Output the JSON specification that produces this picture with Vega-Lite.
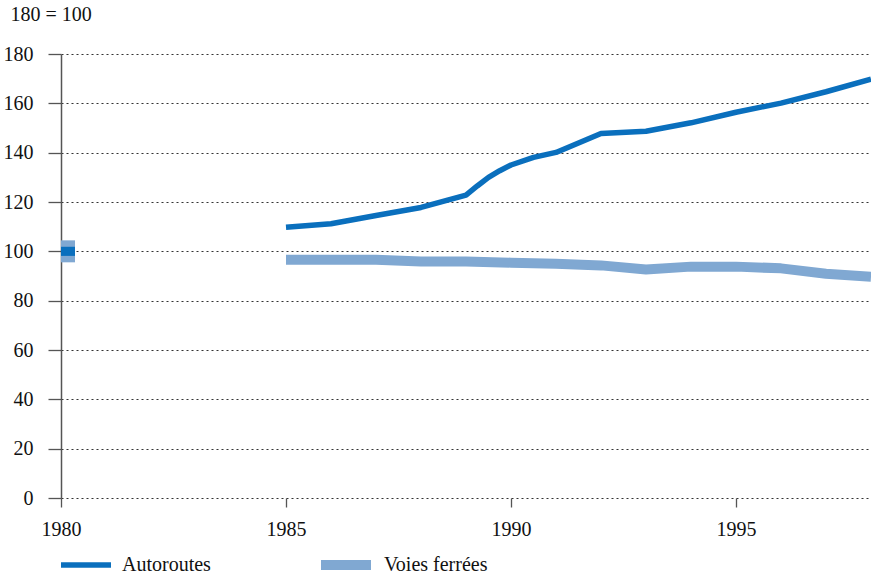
{
  "$schema": "https://vega.github.io/schema/vega-lite/v6.json",
  "width": 810,
  "height": 444,
  "autosize": {"type": "none"},
  "padding": {"left": 61, "top": 54, "right": 0, "bottom": 79},
  "background": "white",
  "config": {
    "font": "Liberation Serif, serif",
    "view": {"stroke": null},
    "legend": {"labelFont": "Liberation Serif, serif", "labelFontSize": 20, "labelColor": "#111"}
  },
  "data": {
    "values": [
      {"year": 1980, "series": "Autoroutes", "value": 100},
      {"year": 1985, "series": "Autoroutes", "value": 109.8},
      {"year": 1986, "series": "Autoroutes", "value": 111.2},
      {"year": 1987, "series": "Autoroutes", "value": 114.5},
      {"year": 1988, "series": "Autoroutes", "value": 117.8},
      {"year": 1989, "series": "Autoroutes", "value": 122.8},
      {"year": 1989.25, "series": "Autoroutes", "value": 126.5},
      {"year": 1989.5, "series": "Autoroutes", "value": 130},
      {"year": 1989.75, "series": "Autoroutes", "value": 132.7},
      {"year": 1990, "series": "Autoroutes", "value": 135},
      {"year": 1990.5, "series": "Autoroutes", "value": 138.1},
      {"year": 1991, "series": "Autoroutes", "value": 140.1},
      {"year": 1992, "series": "Autoroutes", "value": 147.8},
      {"year": 1993, "series": "Autoroutes", "value": 148.7},
      {"year": 1994, "series": "Autoroutes", "value": 152.1},
      {"year": 1995, "series": "Autoroutes", "value": 156.4},
      {"year": 1996, "series": "Autoroutes", "value": 160.1},
      {"year": 1997, "series": "Autoroutes", "value": 164.7},
      {"year": 1998, "series": "Autoroutes", "value": 169.8},
      {"year": 1980, "series": "Voies ferrées", "value": 100},
      {"year": 1985, "series": "Voies ferrées", "value": 96.6},
      {"year": 1986, "series": "Voies ferrées", "value": 96.6},
      {"year": 1987, "series": "Voies ferrées", "value": 96.6},
      {"year": 1988, "series": "Voies ferrées", "value": 95.9},
      {"year": 1989, "series": "Voies ferrées", "value": 95.9},
      {"year": 1990, "series": "Voies ferrées", "value": 95.4},
      {"year": 1991, "series": "Voies ferrées", "value": 95.0},
      {"year": 1992, "series": "Voies ferrées", "value": 94.3},
      {"year": 1993, "series": "Voies ferrées", "value": 92.6},
      {"year": 1994, "series": "Voies ferrées", "value": 93.8},
      {"year": 1995, "series": "Voies ferrées", "value": 93.8},
      {"year": 1996, "series": "Voies ferrées", "value": 93.1},
      {"year": 1997, "series": "Voies ferrées", "value": 90.9},
      {"year": 1998, "series": "Voies ferrées", "value": 89.7}
    ]
  },
  "encoding": {
    "x": {
      "field": "year", "type": "quantitative",
      "scale": {"domain": [1980, 1998], "nice": false, "zero": false},
      "axis": {
        "title": null, "values": [1980, 1985, 1990, 1995], "format": "d",
        "labelFont": "Liberation Serif", "labelFontSize": 20, "labelColor": "#111",
        "domain": false, "grid": false, "tickSize": 9, "tickColor": "#555", "tickWidth": 1.3,
        "labelPadding": 12, "labelFlush": false
      }
    },
    "y": {
      "field": "value", "type": "quantitative",
      "scale": {"domain": [0, 180], "nice": false},
      "axis": {
        "title": "180 = 100", "titleAngle": 0, "titleAlign": "left", "titleBaseline": "alphabetic",
        "titleX": -51, "titleY": -34, "titleFont": "Liberation Serif", "titleFontSize": 20, "titleFontWeight": "normal", "titleColor": "#111",
        "labelFont": "Liberation Serif", "labelFontSize": 20, "labelColor": "#111",
        "values": [0, 20, 40, 60, 80, 100, 120, 140, 160, 180],
        "domain": true, "domainColor": "#555", "domainWidth": 1.5,
        "tickSize": 13, "tickColor": "#555", "tickWidth": 1.3, "labelPadding": 15,
        "grid": true, "gridColor": "#333", "gridDash": [2, 3], "gridWidth": 1.2
      }
    }
  },
  "layer": [
    {
      "transform": [{"filter": "datum.year >= 1985 && datum.series == 'Voies ferrées'"}],
      "mark": {"type": "line", "strokeCap": "butt", "strokeJoin": "round", "strokeWidth": 10},
      "encoding": {
        "color": {
          "field": "series", "type": "nominal",
          "scale": {"domain": ["Voies ferrées"], "range": ["#80a8d2"]},
          "legend": {
            "title": null, "orient": "none", "legendX": 255, "legendY": 481,
            "symbolType": "stroke", "symbolSize": 2500, "symbolStrokeWidth": 10, "labelOffset": 8, "padding": 0,
            "encode": {"symbols": {"update": {"strokeCap": {"value": "butt"}}}}
          }
        },
        "order": {"field": "year", "type": "quantitative"}
      }
    },
    {
      "transform": [{"filter": "datum.year >= 1985 && datum.series == 'Autoroutes'"}],
      "mark": {"type": "line", "strokeCap": "butt", "strokeJoin": "round", "strokeWidth": 5.5},
      "encoding": {
        "stroke": {
          "field": "series", "type": "nominal",
          "scale": {"domain": ["Autoroutes"], "range": ["#0a6fbd"]},
          "legend": {
            "title": null, "orient": "none", "legendX": -3, "legendY": 483,
            "symbolType": "stroke", "symbolSize": 2500, "symbolStrokeWidth": 5.5, "labelOffset": 8, "padding": 0,
            "encode": {"symbols": {"update": {"strokeCap": {"value": "butt"}}}}
          }
        },
        "order": {"field": "year", "type": "quantitative"}
      }
    },
    {
      "transform": [{"filter": "datum.year == 1980 && datum.series == 'Voies ferrées'"}],
      "mark": {"type": "point", "filled": true, "opacity": 1, "shape": "M0,-1.57H2V1.57H0Z", "size": 196, "color": "#80a8d2", "strokeWidth": 0}
    },
    {
      "transform": [{"filter": "datum.year == 1980 && datum.series == 'Autoroutes'"}],
      "mark": {"type": "point", "filled": true, "opacity": 1, "shape": "M0,-0.65H2V0.65H0Z", "size": 196, "color": "#0a6fbd", "strokeWidth": 0}
    }
  ]
}
